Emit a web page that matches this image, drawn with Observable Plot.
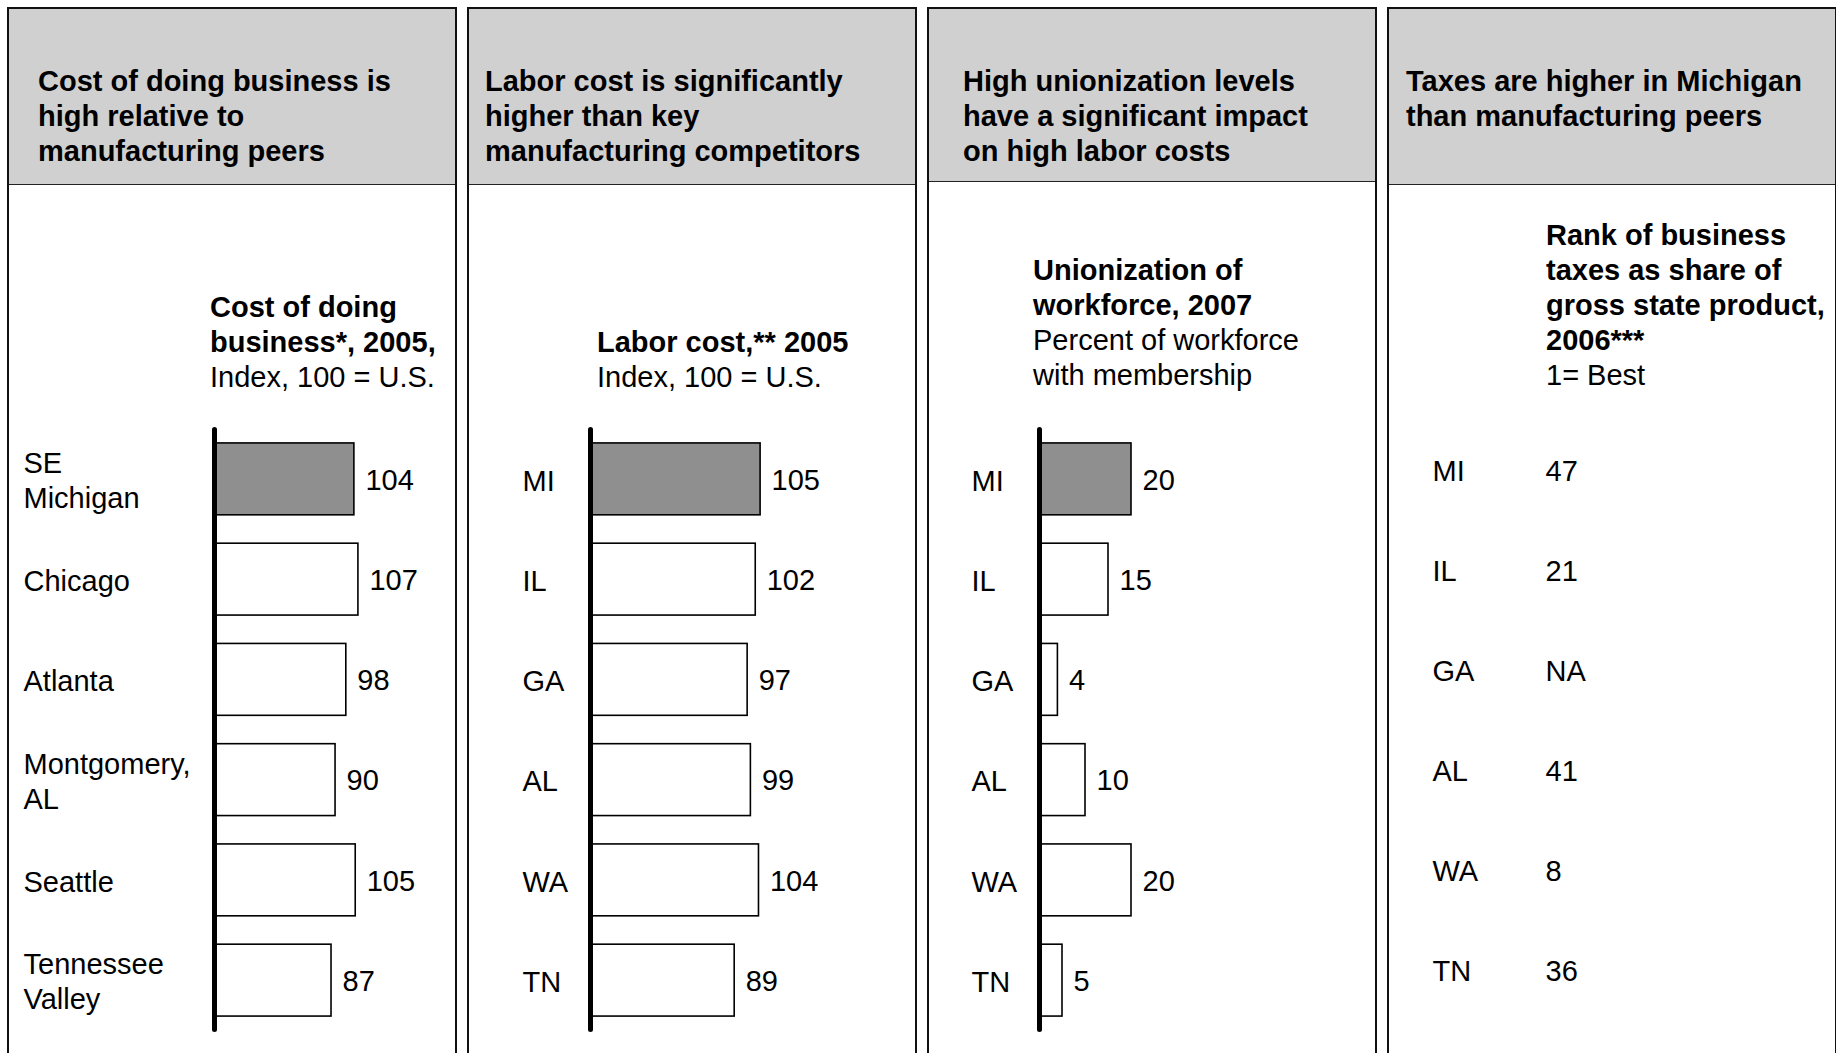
<!DOCTYPE html>
<html>
<head>
<meta charset="utf-8">
<script src="https://cdn.jsdelivr.net/npm/d3@7"></script>
<script src="https://cdn.jsdelivr.net/npm/@observablehq/plot@0.6"></script>
<style>
  html, body { margin: 0; padding: 0; background: white; }
  #page { position: relative; width: 1836px; height: 1053px; overflow: hidden; background: white;
          font-family: "Liberation Sans", Arial, Helvetica, sans-serif; color: #000; }
  .panel { position: absolute; top: 7px; width: 450px; height: 1100px; box-sizing: border-box;
           border: 2px solid #111; border-bottom: none; }
  .head { position: absolute; left: 0; right: 0; top: 0; background: #d0d0d0; border-bottom: 1.5px solid #222; }
  .htext { position: absolute; font-size: 29px; line-height: 35px; font-weight: bold; white-space: pre; }
  .sub { position: absolute; font-size: 29px; line-height: 35px; white-space: pre; }
  .sub .b { font-weight: bold; }
  svg.plot-abs { position: absolute; }
</style>
</head>
<body>
<div id="page"></div>
<script>
// ---------- data ----------
const headers = [
  "Cost of doing business is\nhigh relative to\nmanufacturing peers",
  "Labor cost is significantly\nhigher than key\nmanufacturing competitors",
  "High unionization levels\nhave a significant impact\non high labor costs",
  "Taxes are higher in Michigan\nthan manufacturing peers"
];
const subtitles = [
  [["Cost of doing", true], ["business*, 2005,", true], ["Index, 100 = U.S.", false]],
  [["Labor cost,** 2005", true], ["Index, 100 = U.S.", false]],
  [["Unionization of", true], ["workforce, 2007", true], ["Percent of workforce", false], ["with membership", false]],
  [["Rank of business", true], ["taxes as share of", true], ["gross state product,", true], ["2006***", true], ["1= Best", false]]
];
const cities = ["SE\nMichigan", "Chicago", "Atlanta", "Montgomery,\nAL", "Seattle", "Tennessee\nValley"];
const states = ["MI", "IL", "GA", "AL", "WA", "TN"];
const costOfBusiness = [104, 107, 98, 90, 105, 87];   // Index, 100 = U.S., 2005
const laborCost = [105, 102, 97, 99, 104, 89];        // Index, 100 = U.S., 2005
const unionization = [20, 15, 4, 10, 20, 5];          // % of workforce, 2007
const taxRank = [47, 21, null, 41, 8, 36];            // rank, 1 = best, 2006 (GA = NA)

// ---------- layout ----------
const FONT = '"Liberation Sans", Arial, Helvetica, sans-serif';
const page = document.getElementById("page");
const panelLeft = [7, 467, 927, 1387];
const headHeight = [175, 175, 172, 175];
const headTextX = [38, 485, 963, 1406];
const subX = [210, 597, 1033, 1546];
const subLastBaseline = [387.5, 387.5, 385.5, 385.5];

panelLeft.forEach((L, i) => {
  const p = document.createElement("div");
  p.className = "panel";
  p.style.left = L + "px";
  const h = document.createElement("div");
  h.className = "head";
  h.style.height = headHeight[i] + "px";
  p.appendChild(h);
  page.appendChild(p);

  const ht = document.createElement("div");
  ht.className = "htext";
  ht.style.left = headTextX[i] + "px";
  ht.style.top = "63.5px";
  ht.textContent = headers[i];
  page.appendChild(ht);

  const lines = subtitles[i];
  const s = document.createElement("div");
  s.className = "sub";
  s.style.left = subX[i] + "px";
  s.style.top = (subLastBaseline[i] - 27.55 - (lines.length - 1) * 35) + "px";
  lines.forEach(([t, b]) => {
    const d = document.createElement("div");
    if (b) d.className = "b";
    d.textContent = t;
    s.appendChild(d);
  });
  page.appendChild(s);
});

function place(svg, left, top) {
  svg.classList.add("plot-abs");
  svg.style.left = left + "px";
  svg.style.top = top + "px";
  page.appendChild(svg);
}

function barPanel(cats, values, i, zeroX, unit, domainMax, labelX) {
  const left = panelLeft[i];
  const data = cats.map((c, k) => ({cat: c, value: values[k], hi: k === 0}));
  const svg = Plot.plot({
    width: 450, height: 640,
    marginTop: 19.5, marginBottom: 20.5, marginLeft: 0, marginRight: 0,
    style: {background: "transparent", fontFamily: FONT, fontSize: "29px", color: "black", overflow: "visible"},
    x: {domain: [0, domainMax], range: [zeroX - left, zeroX - left + domainMax * unit], axis: null},
    y: {domain: cats, paddingInner: 0.283, paddingOuter: 0.134, round: false, axis: null},
    color: {type: "identity"},
    marks: [
      Plot.barX(data, {x1: 0, x2: "value", y: "cat", fill: d => d.hi ? "#8f8f8f" : "#ffffff", stroke: "#000", strokeWidth: 1.6}),
      Plot.ruleX([0], {stroke: "#000", strokeWidth: 5, strokeLinecap: "round"}),
      Plot.text(data, {x: "value", y: "cat", text: d => String(d.value), textAnchor: "start", dx: 11, dy: 1, fontSize: 29, fill: "#000"}),
      Plot.text(data, {y: "cat", text: "cat", frameAnchor: "left", textAnchor: "start", dx: labelX - left, fontSize: 29, lineHeight: 1.2, fill: "#000"})
    ]
  });
  place(svg, left, 410);
}

barPanel(cities, costOfBusiness, 0, 214, 1.345, 120, 23);
barPanel(states, laborCost, 1, 590, 1.62, 120, 522);
barPanel(states, unionization, 2, 1039, 4.6, 25, 971);

// Tax rank panel: text only
(function () {
  const left = panelLeft[3];
  const data = states.map((s, k) => ({cat: s, rank: taxRank[k]}));
  const svg = Plot.plot({
    width: 449, height: 640,
    marginTop: 19.5, marginBottom: 20.5, marginLeft: 0, marginRight: 0,
    style: {background: "transparent", fontFamily: FONT, fontSize: "29px", color: "black", overflow: "visible"},
    y: {domain: states, paddingInner: 0.283, paddingOuter: 0.134, round: false, axis: null},
    marks: [
      Plot.text(data, {y: "cat", text: "cat", frameAnchor: "left", textAnchor: "start", dx: 1432 - left, fontSize: 29, fill: "#000"}),
      Plot.text(data, {y: "cat", text: d => d.rank == null ? "NA" : String(d.rank), frameAnchor: "left", textAnchor: "start", dx: 1545 - left, fontSize: 29, fill: "#000"})
    ]
  });
  place(svg, left, 402);
})();
</script>
</body>
</html>
